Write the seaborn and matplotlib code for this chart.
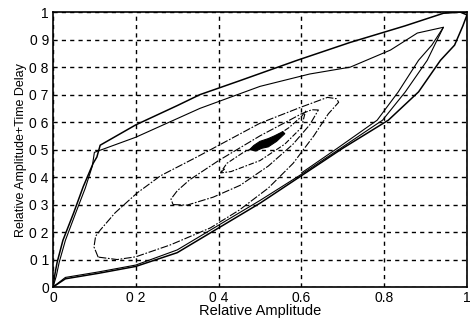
"""
Nested amplitude / time-delay contour loops (scanned MATLAB-style figure)
"""

import numpy as np
import pandas as pd
import matplotlib
matplotlib.use("Agg")
import matplotlib.pyplot as plt
import seaborn as sns

# outer loop (upper branch then lower branch back to origin)
loop1_x = [0.0, 0.005, 0.01, 0.024, 0.05, 0.073, 0.097, 0.106, 0.114, 0.2, 0.3, 0.355, 0.45,
           0.59, 0.718, 0.85, 0.943, 0.984, 1.0, 0.99, 0.97, 0.936, 0.883, 0.81, 0.70,
           0.6, 0.5, 0.4, 0.3, 0.2, 0.11, 0.03, 0.0]
loop1_y = [0.0, 0.05, 0.09, 0.17, 0.27, 0.365, 0.45, 0.473, 0.516, 0.59, 0.66, 0.70, 0.75,
           0.825, 0.89, 0.95, 0.996, 1.0, 0.99, 0.95, 0.88, 0.825, 0.71, 0.607, 0.505,
           0.405, 0.305, 0.215, 0.125, 0.075, 0.05, 0.03, 0.0]

# second loop, closes through the narrow tongue at the top right
loop2_x = [0.0, 0.008, 0.015, 0.03, 0.055, 0.078, 0.095, 0.10, 0.2, 0.355, 0.5, 0.62, 0.718,
           0.815, 0.88, 0.943, 0.925, 0.904, 0.851, 0.796, 0.69, 0.6, 0.5, 0.4, 0.3,
           0.2, 0.11, 0.03, 0.0]
loop2_y = [0.0, 0.04, 0.09, 0.17, 0.27, 0.36, 0.44, 0.49, 0.545, 0.65, 0.73, 0.775, 0.80,
           0.862, 0.924, 0.945, 0.89, 0.825, 0.71, 0.607, 0.50, 0.41, 0.315, 0.225, 0.135,
           0.08, 0.055, 0.035, 0.0]

# inner tongue line along the lower-right edge
tongue_x = [0.943, 0.915, 0.883, 0.834, 0.783, 0.687, 0.6]
tongue_y = [0.945, 0.88, 0.825, 0.71, 0.607, 0.505, 0.415]

# third loop, tip on the left near (0.1, 0.15)
loop3_x = [0.109, 0.099, 0.103, 0.114, 0.15, 0.203, 0.26, 0.35, 0.5, 0.6, 0.663, 0.685,
           0.69, 0.665, 0.63, 0.58, 0.52, 0.45, 0.38, 0.283, 0.2, 0.155, 0.109]
loop3_y = [0.109, 0.146, 0.185, 0.207, 0.27, 0.342, 0.405, 0.475, 0.596, 0.655, 0.69, 0.685,
           0.672, 0.63, 0.55, 0.45, 0.36, 0.28, 0.215, 0.153, 0.11, 0.10, 0.109]

# fourth loop, tip near (0.29, 0.30)
loop4_x = [0.29, 0.324, 0.387, 0.452, 0.52, 0.58, 0.62, 0.641, 0.625, 0.6, 0.5, 0.4, 0.33,
           0.30, 0.285, 0.29]
loop4_y = [0.30, 0.298, 0.327, 0.37, 0.44, 0.52, 0.59, 0.644, 0.645, 0.63, 0.55, 0.46, 0.39,
           0.35, 0.32, 0.30]

# innermost loop with the hook near (0.4, 0.41)
loop5_x = [0.415, 0.404, 0.42, 0.46, 0.52, 0.57, 0.6, 0.61, 0.6, 0.56, 0.5, 0.43, 0.404]
loop5_y = [0.43, 0.415, 0.45, 0.49, 0.53, 0.58, 0.62, 0.64, 0.58, 0.52, 0.46, 0.42, 0.415]

# dense core of the distribution
core_x = [0.475, 0.49, 0.505, 0.52, 0.54, 0.56, 0.555, 0.535, 0.52, 0.50, 0.485, 0.475]
core_y = [0.50, 0.495, 0.505, 0.51, 0.53, 0.558, 0.565, 0.55, 0.54, 0.53, 0.515, 0.50]

x_ticks = [0.0, 0.2, 0.4, 0.6, 0.8, 1.0]
x_tick_labels = ["0", "0 2", "0 4", "0.6", "0.8", "1"]
y_ticks = [0.0, 0.1, 0.2, 0.3, 0.4, 0.5, 0.6, 0.7, 0.8, 0.9, 1.0]
y_tick_labels = ["0", "0 1", "0 2", "0 3", "0 4", "0 5", "0 6", "0 7", "0 8", "0 9", "1"]

sns.set_theme(style="white")
plt.rcParams['font.family'] = ['Liberation Sans', 'DejaVu Sans']

fig = plt.figure(figsize=(4.71, 3.2), dpi=100)
ax = fig.add_axes([0.1125, 0.103, 0.879, 0.859])

loops = [
    (loop1_x, loop1_y, '-', 1.1),
    (loop2_x, loop2_y, '-', 0.8),
    (tongue_x, tongue_y, '-', 0.8),
    (loop3_x, loop3_y, (0, (7, 1.5, 1.5, 1.5)), 0.8),
    (loop4_x, loop4_y, (0, (7, 1.5, 1.5, 1.5)), 0.8),
    (loop5_x, loop5_y, (0, (5, 1.5, 1.5, 1.5)), 0.8),
]
for lx, ly, ls, lw in loops:
    df = pd.DataFrame({'x': lx, 'y': ly})
    sns.lineplot(data=df, x='x', y='y', sort=False, estimator=None, ax=ax,
                 color='black', linewidth=lw, linestyle=ls)

ax.fill(core_x, core_y, color='black', linewidth=0.8)

ax.set_xlim(0, 1)
ax.set_ylim(0, 1)
ax.set_xticks(x_ticks)
ax.set_xticklabels(x_tick_labels)
ax.set_yticks(y_ticks)
ax.set_yticklabels(y_tick_labels)
ax.tick_params(length=0, labelsize=10, colors='black', pad=3)

ax.grid(True, color='black', linestyle=(0, (3, 3)), linewidth=1.0)
for s in ax.spines.values():
    s.set_color('black')
    s.set_linewidth(1.2)

ax.set_xlabel('Relative Amplitude', fontsize=10.5, color='black', labelpad=-1)
ax.set_ylabel('Relative Amplitude+Time Delay', fontsize=9, color='black', labelpad=2)

fig.savefig('out.png', dpi=100)
